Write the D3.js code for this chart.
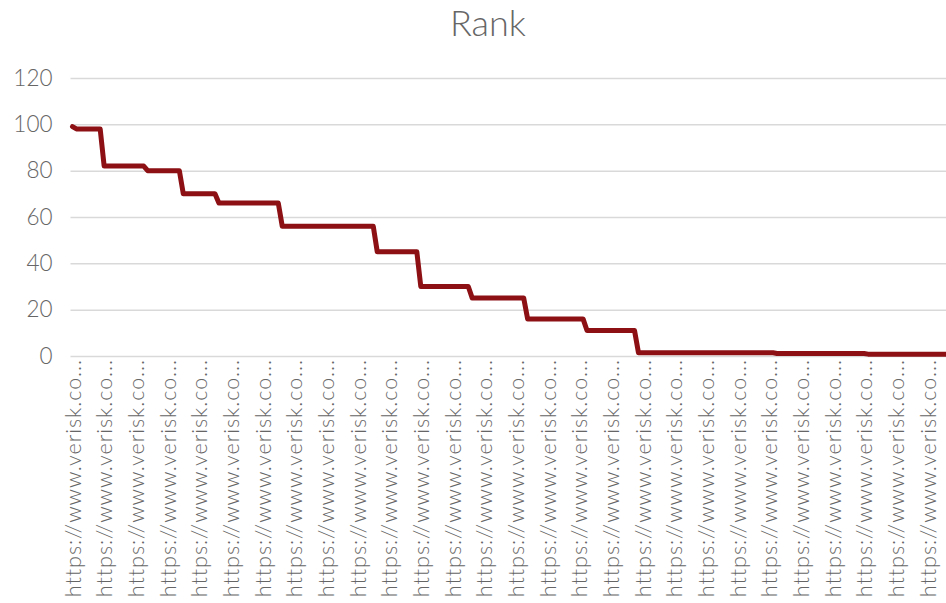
<!DOCTYPE html>
<html>
<head>
<meta charset="utf-8">
<script src="https://cdn.jsdelivr.net/npm/d3@7"></script>
<style>
  html, body { margin: 0; padding: 0; background: #fff; }
  svg { display: block; }
  text { font-family: "Lato", "Open Sans", sans-serif; }
</style>
</head>
<body>
<svg id="chart" width="946" height="603"></svg>
<script>
const title = "Rank";
const categoryLabel = "https://www.verisk.co...";
const yTicks = [0, 20, 40, 60, 80, 100, 120];
const values = [
  99, 98, 98, 98, 98, 98, 98, 98,
  82, 82, 82, 82, 82, 82, 82, 82, 82, 82, 82,
  80, 80, 80, 80, 80, 80, 80, 80, 80,
  70, 70, 70, 70, 70, 70, 70, 70, 70,
  66, 66, 66, 66, 66, 66, 66, 66, 66, 66, 66, 66, 66, 66, 66, 66,
  56, 56, 56, 56, 56, 56, 56, 56, 56, 56, 56, 56, 56, 56, 56, 56, 56, 56, 56, 56, 56, 56, 56, 56,
  45, 45, 45, 45, 45, 45, 45, 45, 45, 45, 45,
  30, 30, 30, 30, 30, 30, 30, 30, 30, 30, 30, 30, 30,
  25, 25, 25, 25, 25, 25, 25, 25, 25, 25, 25, 25, 25, 25,
  16, 16, 16, 16, 16, 16, 16, 16, 16, 16, 16, 16, 16, 16, 16,
  11, 11, 11, 11, 11, 11, 11, 11, 11, 11, 11, 11, 11,
  1.4, 1.4, 1.4, 1.4, 1.4, 1.4, 1.4, 1.4, 1.4, 1.4, 1.4, 1.4, 1.4, 1.4, 1.4, 1.4, 1.4, 1.4,
  1.4, 1.4, 1.4, 1.4, 1.4, 1.4, 1.4, 1.4, 1.4, 1.4, 1.4, 1.4, 1.4, 1.4, 1.4, 1.4, 1.4,
  1.1, 1.1, 1.1, 1.1, 1.1, 1.1, 1.1, 1.1, 1.1, 1.1, 1.1, 1.1, 1.1, 1.1, 1.1, 1.1, 1.1, 1.1, 1.1, 1.1, 1.1, 1.1, 1.1,
  0.8, 0.8, 0.8, 0.8, 0.8, 0.8, 0.8, 0.8, 0.8, 0.8, 0.8, 0.8, 0.8, 0.8, 0.8, 0.8, 0.8, 0.8, 0.8, 0.8, 0.8, 0.8, 0.8
];
const categories = values.map(() => categoryLabel);
const labelEvery = 8;

const svg = d3.select("#chart");
const plotLeft = 70.5, step = 3.958;
const plotTop = 78, plotBottom = 356;

const x = d3.scaleBand()
  .domain(d3.range(categories.length))
  .range([plotLeft, plotLeft + step * categories.length])
  .padding(0);
const y = d3.scaleLinear().domain([0, 120]).range([plotBottom, plotTop]);

const cx = i => x(i) + x.bandwidth() / 2;

// Title
svg.append("text")
  .attr("x", 488).attr("y", 36)
  .attr("text-anchor", "middle")
  .attr("font-size", 36)
  .attr("font-weight", 300)
  .attr("fill", "#666666")
  .text(title);

// Y axis with gridlines
const yAxis = svg.append("g")
  .attr("transform", `translate(${plotLeft},0)`)
  .call(d3.axisLeft(y).tickValues(yTicks)
        .tickSize(-(step * categories.length))
        .tickPadding(18)
        .tickFormat(d3.format("d")));
yAxis.select(".domain").remove();
yAxis.selectAll(".tick line").attr("stroke", "#d9d9d9").attr("stroke-width", 1.5);
yAxis.selectAll(".tick text")
  .attr("font-size", 22.5)
  .attr("font-weight", 300)
  .attr("fill", "#666666")
  .style("font-family", "Lato, sans-serif");

// X axis labels
const xAxis = svg.append("g")
  .attr("transform", `translate(0,${plotBottom})`)
  .call(d3.axisBottom(x)
        .tickValues(d3.range(0, categories.length, labelEvery))
        .tickSize(0)
        .tickFormat(i => categories[i]));
xAxis.select(".domain").remove();
xAxis.selectAll(".tick text")
  .attr("font-size", 21.5)
  .attr("font-weight", 300)
  .attr("fill", "#666666")
  .attr("letter-spacing", 0.95)
  .style("font-family", "Lato, sans-serif")
  .attr("text-anchor", "end")
  .attr("transform", "rotate(-90)")
  .attr("x", -3)
  .attr("y", 0)
  .attr("dy", "0.38em");

// Line
const line = d3.line()
  .x((d, i) => cx(i))
  .y(d => y(d));
svg.append("path")
  .datum(values)
  .attr("d", line)
  .attr("fill", "none")
  .attr("stroke", "#8C1014")
  .attr("stroke-width", 5)
  .attr("stroke-linejoin", "round")
  .attr("stroke-linecap", "round");
</script>
</body>
</html>
